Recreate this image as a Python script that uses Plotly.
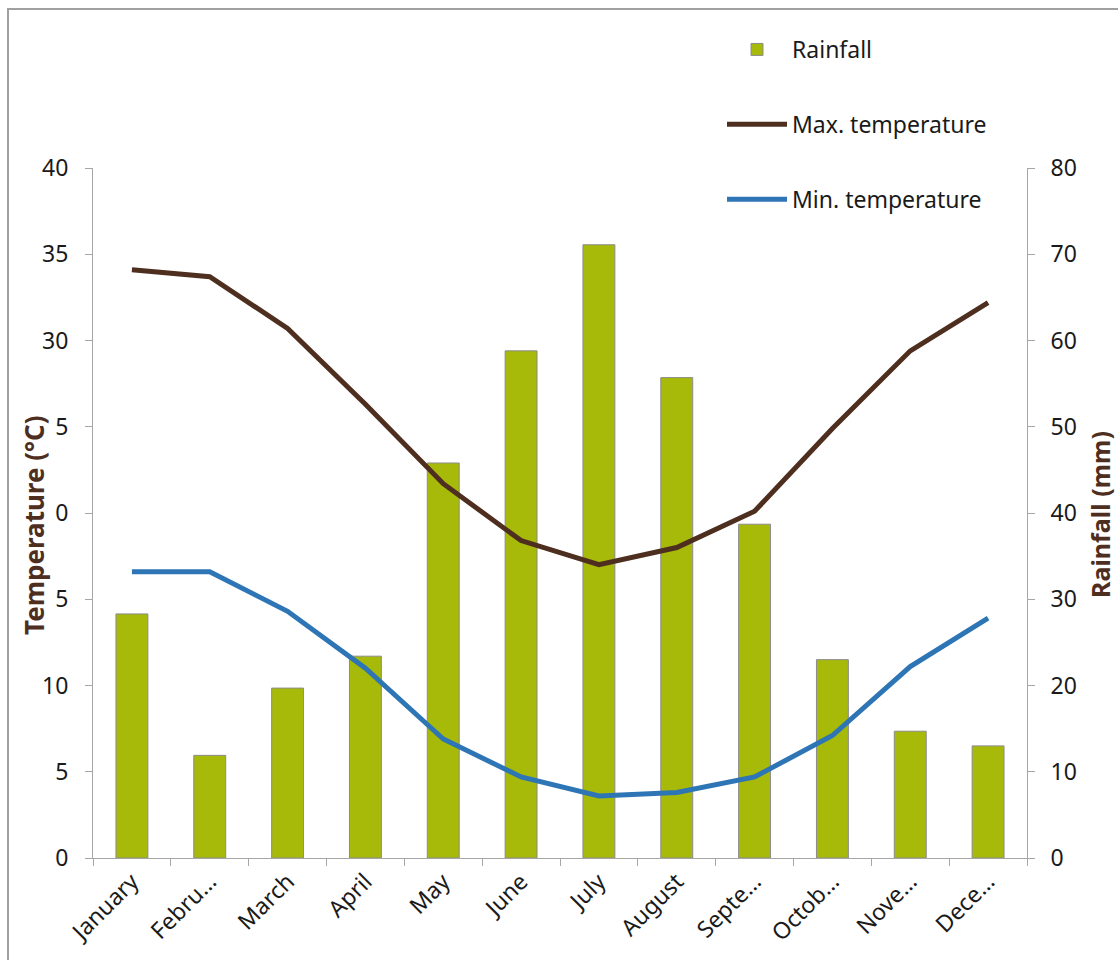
import plotly.graph_objects as go

months = ["January", "February", "March", "April", "May", "June", "July",
          "August", "September", "October", "November", "December"]
month_labels = ["January", "Febru…", "March", "April", "May", "June", "July",
                "August", "Septe…", "Octob…", "Nove…", "Dece…"]
rainfall = [28.3, 11.9, 19.7, 23.4, 45.8, 58.8, 71.1, 55.7, 38.7, 23.0, 14.7, 13.0]
max_temp = [34.1, 33.7, 30.7, 26.3, 21.7, 18.4, 17.0, 18.0, 20.1, 24.9, 29.4, 32.2]
min_temp = [16.6, 16.6, 14.3, 11.0, 6.9, 4.7, 3.6, 3.8, 4.7, 7.1, 11.1, 13.9]
temp_ticks = [0, 5, 10, 15, 20, 25, 30, 35, 40]
temp_tick_labels = ["0", "5", "10", "5", "0", "5", "30", "35", "40"]
rain_ticks = [0, 10, 20, 30, 40, 50, 60, 70, 80]

W, H = 1118, 960
L, R, T, B = 93, 91, 168, 102
PW, PH = W - L - R, H - T - B


def px_x(p):
    return (p - L) / PW


def px_y(p):
    return (H - B - p) / PH


FONT = "Noto Sans"
AXIS_GRAY = "#a6a6a6"
BROWN = "#4e2f1f"
BLUE = "#2e75b6"

fig = go.Figure()
fig.add_trace(go.Bar(
    x=months, y=rainfall, name="Rainfall", yaxis="y",
    marker=dict(color="#a7b909", line=dict(color="#8c8c8c", width=1)),
    width=0.41, legendgroup="a",
))
fig.add_trace(go.Scatter(
    x=months, y=max_temp, name="Max. temperature", yaxis="y2", mode="lines",
    line=dict(color=BROWN, width=5), legendgroup="b",
))
fig.add_trace(go.Scatter(
    x=months, y=min_temp, name="Min. temperature", yaxis="y2", mode="lines",
    line=dict(color=BLUE, width=5), legendgroup="c",
))

tickfont = dict(family=FONT, size=23, color="#1a1a1a")

fig.update_layout(
    width=W, height=H,
    margin=dict(l=L, r=R, t=T, b=B),
    paper_bgcolor="white", plot_bgcolor="white",
    showlegend=True,
    legend=dict(
        x=px_x(722), y=px_y(28), xanchor="left", yanchor="top",
        font=dict(family=FONT, size=23, color="#1a1a1a"),
        tracegroupgap=42, traceorder="grouped",
        bgcolor="rgba(0,0,0,0)", itemwidth=60,
    ),
    xaxis=dict(
        type="category", tickvals=months, ticktext=month_labels,
        tickangle=-45, tickfont=tickfont,
        showline=True, linecolor=AXIS_GRAY, linewidth=1,
        ticks="outside", ticklen=7, tickcolor=AXIS_GRAY,
        tickson="boundaries", showgrid=False, zeroline=False,
        range=[-0.5, 11.5],
    ),
    yaxis=dict(
        side="right", range=[0, 80], tickvals=rain_ticks,
        tickfont=tickfont, showline=True, linecolor=AXIS_GRAY, linewidth=1,
        ticks="outside", ticklen=7, tickcolor=AXIS_GRAY,
        showgrid=False, zeroline=False, ticklabelstandoff=11,
    ),
    yaxis2=dict(
        side="left", overlaying="y", range=[0, 40], tickvals=temp_ticks,
        ticktext=temp_tick_labels,
        tickfont=tickfont, showline=True, linecolor=AXIS_GRAY, linewidth=1,
        ticks="outside", ticklen=7, tickcolor=AXIS_GRAY,
        showgrid=False, zeroline=False, ticklabelstandoff=12,
    ),
    annotations=[
        dict(text="<b>Temperature (°C)</b>", textangle=-90, xref="paper", yref="paper",
             x=px_x(34), y=px_y(525), xanchor="center", yanchor="middle", showarrow=False,
             font=dict(family=FONT, size=26, color=BROWN)),
        dict(text="<b>Rainfall (mm)</b>", textangle=-90, xref="paper", yref="paper",
             x=px_x(1100), y=px_y(515), xanchor="center", yanchor="middle", showarrow=False,
             font=dict(family=FONT, size=25, color=BROWN)),
    ],
    shapes=[
        dict(type="rect", xref="paper", yref="paper",
             x0=px_x(8), x1=px_x(1200), y0=px_y(1000), y1=px_y(9),
             line=dict(color="#a0a0a0", width=2), fillcolor="rgba(0,0,0,0)", layer="below"),
    ],
)

fig.write_html("out.html")
